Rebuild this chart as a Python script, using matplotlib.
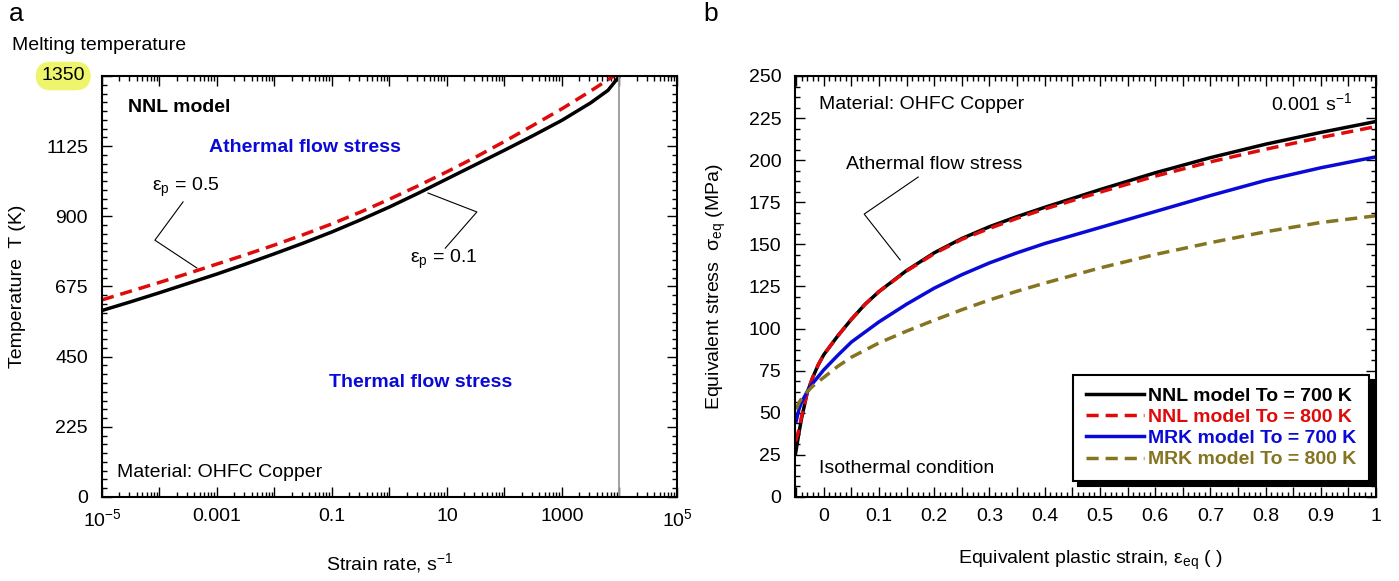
import numpy as np
import matplotlib
matplotlib.use('Agg')
import matplotlib.pyplot as plt
from matplotlib.ticker import FixedLocator, LogLocator, MultipleLocator, FuncFormatter, NullFormatter

plt.rcParams['font.family'] = ['Liberation Sans', 'DejaVu Sans']
plt.rcParams['mathtext.fontset'] = 'custom'
plt.rcParams['mathtext.rm'] = 'Liberation Sans'
plt.rcParams['mathtext.it'] = 'Liberation Sans:italic'
plt.rcParams['font.size'] = 14
FS = 14

# ---- panel a : temperature vs strain rate ----
rate_eps01 = [1e-5, 3.16e-5, 1e-4, 3.16e-4, 1e-3, 3.16e-3, 1e-2, 3.16e-2, 0.1, 0.316,
              1, 3.16, 10, 31.6, 100, 316, 1000, 3160, 6310, 1e4]
temp_eps01 = [598, 626, 655, 685, 715, 747, 780, 814, 850, 889,
              930, 974, 1020, 1066, 1112, 1159, 1208, 1264, 1304, 1350]
rate_eps05 = [1e-5, 3.16e-5, 1e-4, 3.16e-4, 1e-3, 3.16e-3, 1e-2, 3.16e-2, 0.1, 0.316,
              1, 3.16, 10, 31.6, 100, 316, 1000, 3160, 7940]
temp_eps05 = [632, 660, 688, 717, 747, 777, 808, 841, 876, 914,
              955, 998, 1043, 1090, 1140, 1192, 1245, 1302, 1350]
rate_melt = 1e4
temp_melt = 1350
xtick_vals = [1e-5, 1e-3, 1e-1, 1e1, 1e3, 1e5]
xtick_text = ['10$^{-5}$', '0.001', '0.1', '10', '1000', '10$^{5}$']

# ---- panel b : stress vs plastic strain ----
strain_nnl = [-0.051, -0.045, -0.04, -0.03, -0.02, -0.01, 0, 0.025, 0.05, 0.075, 0.1, 0.15, 0.2,
              0.25, 0.3, 0.35, 0.4, 0.5, 0.6, 0.7, 0.8, 0.9, 1.0]
stress_nnl700 = [26, 38, 47, 62, 71, 78.5, 84.5, 95.5, 105.5, 114.5, 122, 134.5, 145,
                 153.5, 160.5, 166.5, 172, 182.5, 192.5, 201.5, 209.5, 216.5, 223]
stress_nnl800 = [33, 40, 48, 62, 71, 78.5, 84.5, 95.5, 105.5, 114.5, 122, 134.2, 144.5,
                 153, 159.5, 165.5, 171, 181, 190.5, 199, 206.5, 213.5, 220]
strain_mrk = [-0.05, -0.045, -0.04, -0.03, -0.02, -0.01, 0, 0.025, 0.05, 0.1, 0.15, 0.2,
              0.25, 0.3, 0.35, 0.4, 0.5, 0.6, 0.7, 0.8, 0.9, 1.0]
stress_mrk700 = [45, 52, 56.5, 62.5, 67.5, 71.5, 75.5, 84, 92, 104, 114.5, 124,
                 132, 139, 145, 150.5, 160, 169.5, 179, 188, 195.5, 202]
stress_mrk800 = [52, 56, 58.5, 62.5, 65.8, 68.5, 71, 77.5, 83, 91.5, 98.5, 105,
                 111.2, 117, 122.2, 127, 136, 144, 151, 157.5, 163, 167]
labels_b = ['NNL model To = 700 K', 'NNL model To = 800 K',
            'MRK model To = 700 K', 'MRK model To = 800 K']

RED = '#e00a0a'
BLUE = '#0a0ad8'
OLIVE = '#857420'
dash = (0, (3.5, 2))

fig = plt.figure(figsize=(13.99, 5.81), dpi=100)
axa = fig.add_axes([0.0729, 0.1446, 0.411, 0.7246])
axb = fig.add_axes([0.5683, 0.1446, 0.4153, 0.7246])

for ax in (axa, axb):
    ax.tick_params(which='both', direction='in', top=True, right=True, width=1)
    ax.tick_params(which='major', length=7)
    ax.tick_params(which='minor', length=3.5)
    ax.tick_params(axis='x', pad=8, labelsize=FS)
    ax.tick_params(axis='y', pad=10, labelsize=FS)
    for s in ax.spines.values():
        s.set_linewidth(1.5)

# panel a
axa.plot(rate_eps01, temp_eps01, color='k', lw=2.5, solid_capstyle='butt')
axa.plot(rate_eps05, temp_eps05, color=RED, lw=2.5, ls=dash)
axa.axvline(rate_melt, color='#9a9a9a', lw=1.3)
axa.set_xscale('log')
axa.set_xlim(1e-5, 1e5)
axa.set_ylim(0, temp_melt)
axa.xaxis.set_major_locator(FixedLocator([10.0 ** k for k in range(-5, 6)]))
axa.xaxis.set_minor_locator(LogLocator(base=10, subs=np.arange(2, 10), numticks=30))
axa.xaxis.set_minor_formatter(NullFormatter())
xlab = dict(zip(xtick_vals, xtick_text))
axa.xaxis.set_major_formatter(FuncFormatter(
    lambda v, p: next((t for k, t in xlab.items() if abs(np.log10(v) - np.log10(k)) < 1e-6), '')))
axa.yaxis.set_major_locator(MultipleLocator(225))
axa.yaxis.set_minor_locator(MultipleLocator(225 / 8))
axa.yaxis.set_major_formatter(FuncFormatter(lambda v, p: '' if v >= 1349 else '%d' % v))
axa.text(-0.0296, 1.0, '1350', transform=axa.transAxes, ha='right', va='center', fontsize=FS,
         bbox=dict(boxstyle='round,pad=0.3,rounding_size=0.8', fc='#eef56c', ec='none'))
axa.set_xlabel('Strain rate, s$^{-1}$', fontsize=FS)
axa.xaxis.set_label_coords(0.5, -0.128)
axa.xaxis.label.set_va('top')
axa.set_ylabel('Temperature  T (K)', fontsize=FS)
axa.yaxis.set_label_coords(-0.132, 0.5)

axa.text(0.045, 0.924, 'NNL model', transform=axa.transAxes, fontsize=FS, fontweight='bold', va='center')
axa.text(0.353, 0.831, 'Athermal flow stress', transform=axa.transAxes, fontsize=FS,
         fontweight='bold', color=BLUE, ha='center', va='center')
axa.text(0.555, 0.273, 'Thermal flow stress', transform=axa.transAxes, fontsize=FS,
         fontweight='bold', color=BLUE, ha='center', va='center')
axa.text(0.026, 0.057, 'Material: OHFC Copper', transform=axa.transAxes, fontsize=FS, va='center')
axa.text(0.087, 0.735, 'ε$_{\\mathregular{p}}$ = 0.5', transform=axa.transAxes, fontsize=FS, va='center')
axa.plot([0.141, 0.092, 0.165], [0.701, 0.610, 0.544], color='k', lw=0.8, transform=axa.transAxes)
axa.text(0.536, 0.565, 'ε$_{\\mathregular{p}}$ = 0.1', transform=axa.transAxes, fontsize=FS, va='center')
axa.plot([0.597, 0.652, 0.567], [0.591, 0.677, 0.722], color='k', lw=0.8, transform=axa.transAxes)

fig.text(0.0086, 0.921, 'Melting temperature', fontsize=FS, va='center')
fig.text(0.006, 0.976, 'a', fontsize=19, va='center')
fig.text(0.503, 0.976, 'b', fontsize=19, va='center')

# panel b
lb1, = axb.plot(strain_nnl, stress_nnl700, color='k', lw=2.5)
lb2, = axb.plot(strain_nnl, stress_nnl800, color=RED, lw=2.5, ls=dash)
lb3, = axb.plot(strain_mrk, stress_mrk700, color=BLUE, lw=2.5)
lb4, = axb.plot(strain_mrk, stress_mrk800, color=OLIVE, lw=2.5, ls=dash)
axb.set_xlim(-0.052, 1.0)
axb.set_ylim(0, 250)
axb.xaxis.set_major_locator(MultipleLocator(0.05))
axb.xaxis.set_minor_locator(MultipleLocator(0.01))
axb.xaxis.set_major_formatter(FuncFormatter(
    lambda v, p: ('%g' % round(v, 1)) if abs(v * 10 - round(v * 10)) < 1e-6 and v > -0.01 else ''))
axb.yaxis.set_major_locator(MultipleLocator(25))
axb.yaxis.set_minor_locator(MultipleLocator(6.25))
axb.set_xlabel('Equivalent plastic strain, ε$_{\\mathregular{eq}}$ ( )', fontsize=FS)
axb.xaxis.set_label_coords(0.509, -0.124)
axb.xaxis.label.set_va('top')
axb.set_ylabel('Equivalent stress  σ$_{\\mathregular{eq}}$ (MPa)', fontsize=FS)
axb.yaxis.set_label_coords(-0.115, 0.5)

axb.text(0.041, 0.933, 'Material: OHFC Copper', transform=axb.transAxes, fontsize=FS, va='center')
axb.text(0.959, 0.936, '0.001 s$^{-1}$', transform=axb.transAxes, fontsize=FS, va='center', ha='right')
axb.text(0.088, 0.789, 'Athermal flow stress', transform=axb.transAxes, fontsize=FS, va='center')
axb.plot([0.212, 0.119, 0.181], [0.760, 0.672, 0.563], color='k', lw=0.8, transform=axb.transAxes)
axb.text(0.041, 0.067, 'Isothermal condition', transform=axb.transAxes, fontsize=FS, va='center')

leg = axb.legend([lb1, lb2, lb3, lb4], labels_b, loc='lower right', bbox_to_anchor=(0.988, 0.038),
                 borderaxespad=0, fancybox=False, handlelength=3.0, handletextpad=0.2,
                 labelspacing=0.18, borderpad=0.65, framealpha=1,
                 prop={'weight': 'bold', 'size': FS}, labelcolor='linecolor',
                 shadow={'color': 'k', 'alpha': 1, 'ox': 3.5, 'oy': -3.5})
leg.get_frame().set_edgecolor('k')
leg.get_frame().set_linewidth(1.5)

fig.savefig('out.png', dpi=100)
